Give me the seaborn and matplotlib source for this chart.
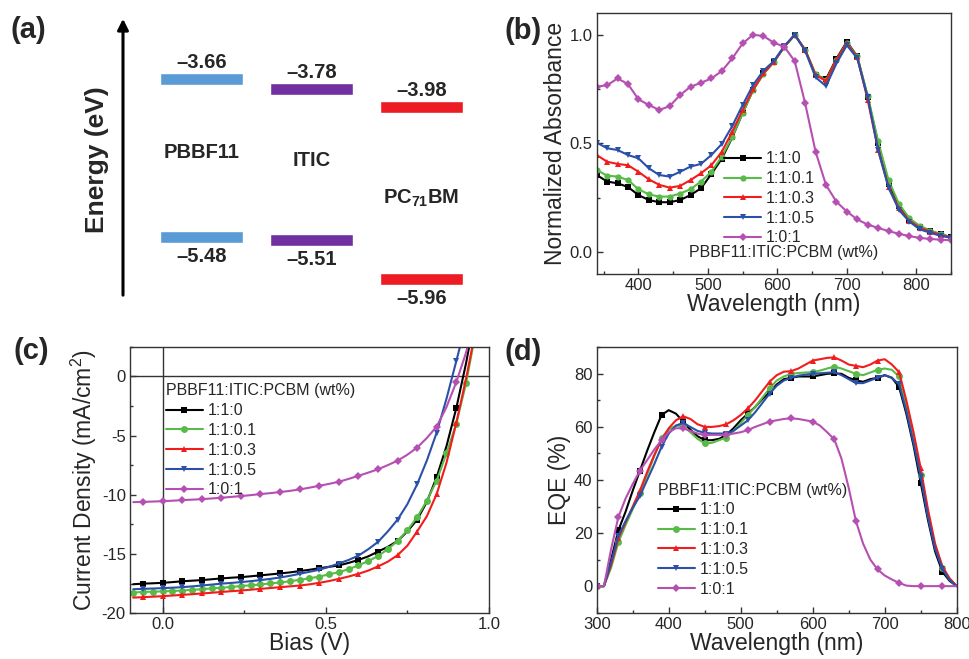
import numpy as np
import matplotlib
matplotlib.use("Agg")
import matplotlib.pyplot as plt
from matplotlib.ticker import MultipleLocator
import seaborn as sns

# ---- (a) energy levels ----
materials = ['PBBF11', 'ITIC', 'PC$_{\\mathbf{71}}$BM']
lumo = [-3.66, -3.78, -3.98]
homo = [-5.48, -5.51, -5.96]
level_colors = ['#5b9bd5', '#7030a0', '#ed1c24']

# ---- common series styling ----
ratios = ['1:1:0', '1:1:0.1', '1:1:0.3', '1:1:0.5', '1:0:1']
colors = ['#000000', '#58ba47', '#f21c1c', '#2b50a8', '#b64fb2']
markers = ['s', 'o', '^', 'v', 'D']

# ---- (b) absorbance ----
wl_abs = list(range(340, 851, 15))
abs_110 = [0.355, 0.325, 0.317, 0.300, 0.263, 0.240, 0.230, 0.230, 0.240, 0.263,
           0.294, 0.360, 0.430, 0.528, 0.640, 0.746, 0.822, 0.876, 0.945, 1.000,
           0.930, 0.815, 0.796, 0.890, 0.968, 0.900, 0.712, 0.500, 0.312, 0.212,
           0.149, 0.118, 0.098, 0.083, 0.069]
abs_1101 = [0.378, 0.352, 0.348, 0.332, 0.290, 0.266, 0.256, 0.256, 0.270, 0.290,
            0.325, 0.370, 0.440, 0.530, 0.639, 0.745, 0.820, 0.876, 0.945, 1.000,
            0.930, 0.820, 0.790, 0.885, 0.963, 0.900, 0.720, 0.510, 0.332, 0.222,
            0.156, 0.121, 0.100, 0.084, 0.069]
abs_1103 = [0.447, 0.416, 0.406, 0.400, 0.370, 0.335, 0.310, 0.297, 0.305, 0.332,
            0.363, 0.400, 0.462, 0.554, 0.654, 0.749, 0.822, 0.876, 0.945, 1.000,
            0.930, 0.815, 0.787, 0.884, 0.960, 0.896, 0.700, 0.470, 0.300, 0.202,
            0.144, 0.113, 0.095, 0.080, 0.067]
abs_1105 = [0.504, 0.478, 0.470, 0.447, 0.432, 0.386, 0.355, 0.348, 0.370, 0.394,
            0.406, 0.447, 0.498, 0.580, 0.677, 0.769, 0.835, 0.879, 0.948, 1.000,
            0.926, 0.804, 0.764, 0.868, 0.952, 0.891, 0.712, 0.470, 0.297, 0.194,
            0.141, 0.105, 0.090, 0.075, 0.067]
abs_101 = [0.761, 0.768, 0.799, 0.773, 0.703, 0.677, 0.654, 0.672, 0.723, 0.761,
           0.779, 0.799, 0.833, 0.891, 0.960, 1.000, 0.994, 0.963, 0.945, 0.878,
           0.684, 0.462, 0.309, 0.232, 0.187, 0.151, 0.127, 0.112, 0.097, 0.085,
           0.074, 0.066, 0.061, 0.058, 0.055]

# ---- (c) J-V ----
bias = [round(-0.09 + 0.03 * i, 2) for i in range(36)]
jv_110 = [-17.55, -17.50, -17.47, -17.43, -17.37, -17.30, -17.25, -17.20, -17.13, -17.06,
          -17.00, -16.95, -16.88, -16.80, -16.72, -16.64, -16.55, -16.44, -16.33, -16.20,
          -16.08, -15.96, -15.75, -15.50, -15.20, -14.80, -14.40, -13.90, -13.10, -12.10,
          -10.60, -8.50, -5.90, -2.70, 1.10, 5.50]
jv_1101 = [-18.25, -18.20, -18.18, -18.15, -18.12, -18.08, -18.02, -17.97, -17.90, -17.85,
           -17.78, -17.70, -17.64, -17.57, -17.48, -17.40, -17.30, -17.18, -17.05, -16.90,
           -16.72, -16.53, -16.28, -15.96, -15.60, -15.17, -14.60, -13.90, -13.00, -11.90,
           -10.50, -8.80, -6.50, -4.00, -0.60, 3.80]
jv_1103 = [-18.68, -18.64, -18.60, -18.56, -18.50, -18.45, -18.39, -18.33, -18.27, -18.20,
           -18.14, -18.08, -18.01, -17.94, -17.87, -17.80, -17.73, -17.66, -17.56, -17.43,
           -17.28, -17.10, -16.90, -16.67, -16.40, -16.05, -15.65, -15.10, -14.30, -13.10,
           -11.80, -9.94, -7.30, -3.95, -0.20, 4.00]
jv_1105 = [-17.97, -17.94, -17.91, -17.88, -17.84, -17.80, -17.73, -17.66, -17.58, -17.50,
           -17.44, -17.37, -17.29, -17.20, -17.10, -16.98, -16.84, -16.67, -16.50, -16.33,
           -16.08, -15.80, -15.50, -15.14, -14.60, -13.98, -13.10, -12.10, -10.80, -9.12,
           -7.10, -4.75, -1.90, 1.27, 4.50, 8.00]
jv_101 = [-10.62, -10.60, -10.57, -10.54, -10.50, -10.45, -10.41, -10.37, -10.31, -10.25,
          -10.18, -10.11, -10.03, -9.94, -9.86, -9.77, -9.67, -9.55, -9.40, -9.24,
          -9.08, -8.90, -8.66, -8.40, -8.13, -7.85, -7.50, -7.12, -6.62, -6.02,
          -5.20, -4.24, -2.60, -0.50, 2.00, 5.00]

# ---- (d) EQE ----
wl_eqe = list(range(300, 801, 10))
eqe_110 = [0, 0, 10, 21, 28, 36, 43.5, 51, 58, 64.5,
           66.3, 65, 62, 59, 56.5, 55, 55, 55.5, 57, 59.5,
           62.5, 65, 67.5, 70.5, 73, 76, 78, 78.5, 79, 79,
           79, 79.5, 80, 80.2, 80, 78.5, 77.5, 77, 78, 78.5,
           79.5, 78.5, 75, 65, 53, 39, 25, 13, 5.5, 2,
           0]
eqe_1101 = [0, 0, 7, 16.5, 23, 29, 35, 42, 49, 56,
            59, 60.5, 60.3, 58, 55.5, 53.8, 54, 55, 56, 58.5,
            61.5, 64.5, 67.5, 71, 74.5, 77.5, 79, 80, 80.3, 80.5,
            80.6, 81.2, 82, 82.7, 82, 81, 80, 79.5, 80.5, 81.5,
            82, 81.5, 79, 68, 56, 42, 27, 15, 7, 2.5,
            0]
eqe_1103 = [0, 0, 8, 18, 24, 30, 36, 43, 49.5, 55,
            59.5, 62.5, 64, 63, 61, 60, 60, 60.3, 61, 62.5,
            64.5, 67, 70, 73.5, 77, 79.5, 80.8, 81, 82, 83.5,
            85, 85.5, 86, 86.2, 85, 83.5, 83, 82.5, 83.5, 85,
            85.5, 83.5, 80.6, 70, 58, 44.4, 29, 16, 7.5, 3,
            0]
eqe_1105 = [0, 0, 9, 19, 24.5, 29.5, 34, 40, 46, 52.5,
            57.5, 60.5, 61.5, 60, 58.5, 57.8, 57.5, 57.5, 57.5, 58.5,
            60.5, 62.5, 65.5, 69, 72.5, 75.5, 77.5, 78.5, 79.3, 79.7,
            80, 80.2, 80.4, 80.6, 79.5, 78, 76.5, 76.5, 77.5, 78.6,
            79.5, 78.5, 76, 66, 54, 41.2, 26, 14, 6.5, 2.3,
            0]
eqe_101 = [0, 0, 14, 26, 33, 38.5, 43.5, 47.5, 51.5, 55,
           58, 59.5, 59.5, 58.5, 57.5, 57, 57, 57, 57, 57.5,
           58, 58.8, 60, 61, 62, 62.5, 63, 63.2, 63, 62.5,
           62, 60.5, 58, 55.3, 48, 37, 24.5, 16, 10, 6.3,
           4, 2.5, 1.2, 0.2, 0, 0, 0, 0, 0, 0,
           0]

sns.set_theme(style="ticks")
plt.rcParams['font.family'] = ['Liberation Sans', 'DejaVu Sans']
plt.rcParams['mathtext.fontset'] = 'custom'
plt.rcParams['mathtext.rm'] = 'Liberation Sans'
plt.rcParams['mathtext.bf'] = 'Liberation Sans:bold'
plt.rcParams['axes.unicode_minus'] = False
plt.rcParams['xtick.direction'] = 'in'
plt.rcParams['ytick.direction'] = 'in'
plt.rcParams['axes.edgecolor'] = '#333333'
plt.rcParams['axes.linewidth'] = 1.0

fig = plt.figure(figsize=(9.7, 6.59), dpi=100)

leg_kw = dict(loc='upper left', frameon=False, fontsize=11.5, handlelength=2.3,
              handletextpad=0.3, labelspacing=0.3, borderaxespad=0, borderpad=0)


def style_axes(ax):
    ax.tick_params(which='major', length=4, width=1, color='#333333', labelsize=12, pad=3)
    ax.tick_params(which='minor', length=2.5, width=1, color='#333333')
    for s in ax.spines.values():
        s.set_color('#333333')


def draw_series(ax, x, ys, ms, me, me_list=None):
    for i, y in enumerate(ys):
        every = me if me_list is None else me_list[i]
        sns.lineplot(x=x, y=y, ax=ax, color=colors[i], marker=markers[i],
                     markersize=ms if markers[i] != 'D' else ms * 0.85,
                     markeredgewidth=0, lw=1.5, label=ratios[i], markevery=every)


# ---- panel (a) ----
axa = fig.add_axes([0.0, 0.5144, 0.5, 0.4856])
axa.axis('off')
axa.set_xlim(-1.832, 2.577)
axa.set_ylim(-6.432, -2.753)
xpos = list(range(len(materials)))
axa.bar(xpos, 0.14, bottom=np.array(lumo) - 0.07, width=0.755, color=level_colors)
axa.bar(xpos, 0.14, bottom=np.array(homo) - 0.07, width=0.755, color=level_colors)
for i in xpos:
    axa.annotate('\u2013%.2f' % abs(lumo[i]), xy=(i, lumo[i] + 0.07), xytext=(0, 3.5),
                 textcoords='offset points', ha='center', va='baseline',
                 fontsize=14.5, fontweight='bold')
    axa.annotate('\u2013%.2f' % abs(homo[i]), xy=(i, homo[i] - 0.07), xytext=(0, -3),
                 textcoords='offset points', ha='center', va='top',
                 fontsize=14.5, fontweight='bold')
name_y = [0.525, 0.5, 0.381]
for i, name in enumerate(materials):
    axa.text(i, name_y[i], name, transform=axa.get_xaxis_transform(),
             ha='center', va='center', fontsize=14.5, fontweight='bold')
axa.annotate('', xy=(0.2536, 0.95), xytext=(0.2536, 0.069), xycoords='axes fraction',
             arrowprops=dict(arrowstyle='-|>', color='black', lw=2.2, mutation_scale=16))
axa.text(0.2, 0.5, 'Energy (eV)', transform=axa.transAxes, rotation=90,
         ha='center', va='center', fontsize=19, fontweight='bold')

# ---- panel (b) ----
axb = fig.add_axes([0.6152, 0.5842, 0.3653, 0.3961])
draw_series(axb, wl_abs, [abs_110, abs_1101, abs_1103, abs_1105, abs_101], 4.5, 1)
axb.set_xlim(340, 850)
axb.set_ylim(-0.1, 1.1)
axb.xaxis.set_major_locator(MultipleLocator(100))
axb.xaxis.set_minor_locator(MultipleLocator(50))
axb.yaxis.set_major_locator(MultipleLocator(0.5))
axb.yaxis.set_minor_locator(MultipleLocator(0.25))
style_axes(axb)
axb.set_xlabel('Wavelength (nm)', fontsize=16.5, labelpad=0)
axb.set_ylabel('Normalized Absorbance', fontsize=16.5, labelpad=2)
axb.legend(bbox_to_anchor=(0.36, 0.47), **leg_kw)
axb.text(0.526, 0.084, 'PBBF11:ITIC:PCBM (wt%)', transform=axb.transAxes,
         ha='center', va='center', fontsize=11.5)

# ---- panel (c) ----
axc = fig.add_axes([0.134, 0.0694, 0.370, 0.4045])
axc.axhline(0, color='#333333', lw=1)
axc.axvline(0, color='#333333', lw=1)
draw_series(axc, bias, [jv_110, jv_1101, jv_1103, jv_1105, jv_101], 5, (1, 2),
            me_list=[(1, 2), 1, (1, 2), (1, 2), (1, 2)])
axc.set_xlim(-0.1, 1.0)
axc.set_ylim(-20, 2.5)
axc.xaxis.set_major_locator(MultipleLocator(0.5))
axc.xaxis.set_minor_locator(MultipleLocator(0.25))
axc.yaxis.set_major_locator(MultipleLocator(5))
axc.yaxis.set_minor_locator(MultipleLocator(2.5))
style_axes(axc)
axc.set_xlabel('Bias (V)', fontsize=16.5, labelpad=0)
axc.set_ylabel('Current Density (mA/cm$^2$)', fontsize=16.5, labelpad=2)
axc.legend(bbox_to_anchor=(0.1, 0.862), title='PBBF11:ITIC:PCBM (wt%)',
           title_fontsize=11.5, alignment='left', **leg_kw)

# ---- panel (d) ----
axd = fig.add_axes([0.6152, 0.0703, 0.3711, 0.4027])
draw_series(axd, wl_eqe, [eqe_110, eqe_1101, eqe_1103, eqe_1105, eqe_101], 5, 3)
axd.set_xlim(300, 800)
axd.set_ylim(-10, 90)
axd.xaxis.set_major_locator(MultipleLocator(100))
axd.xaxis.set_minor_locator(MultipleLocator(50))
axd.yaxis.set_major_locator(MultipleLocator(20))
axd.yaxis.set_minor_locator(MultipleLocator(10))
style_axes(axd)
axd.set_xlabel('Wavelength (nm)', fontsize=16.5, labelpad=0)
axd.set_ylabel('EQE (%)', fontsize=16.5, labelpad=2)
axd.legend(bbox_to_anchor=(0.17, 0.49), title='PBBF11:ITIC:PCBM (wt%)',
           title_fontsize=11.5, alignment='left', **leg_kw)

# panel letters
for lab, (fx, fy) in zip(['(a)', '(b)', '(c)', '(d)'],
                         [(0.0289, 0.9545), (0.5388, 0.9534), (0.0326, 0.4679), (0.5395, 0.4663)]):
    fig.text(fx, fy, lab, ha='center', va='center', fontsize=21, fontweight='bold')

fig.savefig('out.png', dpi=100)
